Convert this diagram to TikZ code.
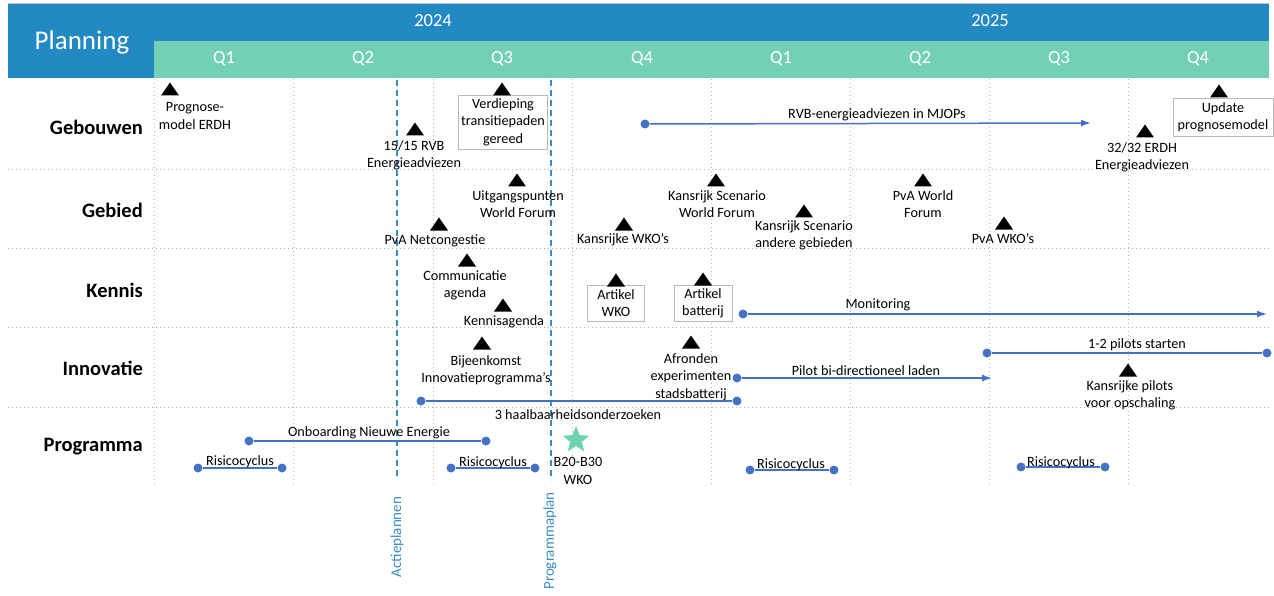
\documentclass[tikz,border=0pt]{standalone}
\usepackage{fontspec}
\setmainfont{Carlito}
\usetikzlibrary{shapes.geometric,arrows.meta}
\definecolor{hdrblue}{HTML}{2289C3}
\definecolor{hdrgreen}{HTML}{73D0B4}
\definecolor{lineblue}{HTML}{4472C4}
\definecolor{dashblue}{HTML}{3A8DC4}
\definecolor{gridgray}{HTML}{A9B7C0}
\definecolor{stargreen}{HTML}{6FD2B2}
\begin{document}
\begin{tikzpicture}[x=1pt,y=-1pt,
  lbl/.style={font=\fontsize{14.2}{17.3}\selectfont, align=center, inner sep=0pt, text=black},
  rowlbl/.style={font=\fontsize{20.5}{25}\selectfont\bfseries, anchor=east, inner sep=0pt},
  hdr/.style={font=\fontsize{18.5}{21}\selectfont, text=white, inner sep=0pt},
  mtri/.pic={\fill[black] (-9,6.5) -- (9,6.5) -- (0,-6.5) -- cycle;},
  mbox/.style={draw=gray!55, line width=0.6pt, fill=white, inner sep=0pt, align=center, font=\fontsize{14.2}{17.3}\selectfont},
  dot/.style={circle, fill=lineblue, minimum size=9pt, inner sep=0pt},
  conn/.style={draw=lineblue, line width=1.5pt},
  arr/.style={conn, -{Latex[length=10pt,width=7pt]}},
  grid/.style={draw=gridgray, line width=1pt, dash pattern=on 1.2pt off 2.8pt},
  vdash/.style={draw=dashblue, line width=1.2pt, dash pattern=on 6pt off 4pt},
  vlbl/.style={font=\fontsize{15}{18}\selectfont, text=dashblue, rotate=90, inner sep=0pt},
  mstar/.style={star, star points=5, star point ratio=2.3, fill=stargreen, minimum size=28pt, inner sep=0pt}
]
\useasboundingbox (0,0) rectangle (1274,596);
% header
\draw[gray!45, line width=0.8pt] (8,3) -- (1270,3);
\fill[hdrblue] (8,4) rectangle (1269,78);
\fill[hdrgreen] (154,41) rectangle (1269,78);
\node[font=\fontsize{27}{31}\selectfont, text=white, inner sep=0pt] (planning) at (82,42) {Planning};
\node[hdr] (y24) at (433,21) {2024};
\node[hdr] (y25) at (990,21) {2025};
\foreach \q/\x in {1/224,2/363,3/502,4/642} \node[hdr] (qa\q) at (\x,59) {Q\q};
\foreach \q/\x in {1/781,2/920,3/1059,4/1198} \node[hdr] (qb\q) at (\x,59) {Q\q};
% grid
\foreach \x in {154,293,433,572,711,850,989,1128} \draw[grid] (\x,79) -- (\x,485);
\foreach \y in {170,248,327,407} \draw[grid] (8,\y) -- (1270,\y);
% row labels
\node[rowlbl] (rg1) at (143,127) {Gebouwen};
\node[rowlbl] (rg2) at (143,210) {Gebied};
\node[rowlbl] (rg3) at (143,290) {Kennis};
\node[rowlbl] (rg4) at (143,368) {Innovatie};
\node[rowlbl] (rg5) at (143,447) {Programma};
% dashed milestones
\coordinate (ap1) at (397,80); \coordinate (ap2) at (397,480);
\coordinate (pp1) at (551,80); \coordinate (pp2) at (551,480);
\draw[vdash] (ap1) -- (ap2);
\draw[vdash] (pp1) -- (pp2);
\node[vlbl] (apl) at (397,537) {Actieplannen};
\node[vlbl] (ppl) at (550,541) {Programmaplan};
% Gebouwen
\pic (t1) at (170,89) {mtri};
\node[lbl] (l1) at (195,116) {Prognose-\\model ERDH};
\pic (t2) at (415,129) {mtri};
\node[lbl] (l2) at (414,155) {15/15 RVB\\Energieadviezen};
\node[mbox, minimum width=89pt, minimum height=54pt] (b3) at (503,122) {Verdieping\\transitiepaden\\gereed};
\pic (t3) at (502,89) {mtri};
\node[dot] (d4a) at (645,124) {};
\coordinate (d4b) at (1091,123);
\draw[arr] (d4a) -- (d4b);
\node[lbl] (l4) at (877,115) {RVB-energieadviezen in MJOPs};
\pic (t5) at (1145,131) {mtri};
\node[lbl] (l5) at (1142,157) {32/32 ERDH\\Energieadviezen};
\node[mbox, minimum width=100pt, minimum height=38pt] (b6) at (1223,117) {Update\\prognosemodel};
\pic (t6) at (1219,91) {mtri};
% Gebied
\pic (t7) at (517,180) {mtri};
\node[lbl] (l7) at (518,204) {Uitgangspunten\\World Forum};
\pic (t8) at (439,224) {mtri};
\node[lbl] (l8) at (435,241) {PvA Netcongestie};
\pic (t9) at (624,224) {mtri};
\node[lbl] (l9) at (623,240) {Kansrijke WKO’s};
\pic (t10) at (716,180) {mtri};
\node[lbl] (l10) at (717,204) {Kansrijk Scenario\\World Forum};
\pic (t11) at (804,211) {mtri};
\node[lbl] (l11) at (804,235) {Kansrijk Scenario\\andere gebieden};
\pic (t12) at (923,180) {mtri};
\node[lbl] (l12) at (923,204) {PvA World\\Forum};
\pic (t13) at (1004,223) {mtri};
\node[lbl] (l13) at (1003,239) {PvA WKO’s};
% Kennis
\pic (t14) at (467,260) {mtri};
\node[lbl] (l14) at (465,285) {Communicatie\\agenda};
\pic (t15) at (503,305) {mtri};
\node[lbl] (l15) at (504,322) {Kennisagenda};
\node[mbox, minimum width=57pt, minimum height=36pt] (b16) at (616,303) {Artikel\\WKO};
\pic (t16) at (616,280) {mtri};
\node[mbox, minimum width=58pt, minimum height=36pt] (b17) at (703,303) {Artikel\\batterij};
\pic (t17) at (703,279) {mtri};
\node[dot] (d18a) at (743,314) {};
\coordinate (d18b) at (1267,314);
\draw[arr] (d18a) -- (d18b);
\node[lbl] (l18) at (878,305) {Monitoring};
% Innovatie
\pic (t19) at (482,343) {mtri};
\node[lbl] (l19) at (486,370) {Bijeenkomst\\Innovatieprogramma’s};
\pic (t20) at (691,342) {mtri};
\node[lbl] (l20) at (691,377) {Afronden\\experimenten\\stadsbatterij};
\node[dot] (d21a) at (421,401) {};
\node[dot] (d21b) at (737,401) {};
\draw[conn] (d21a) -- (d21b);
\node[lbl] (l21) at (578,415) {3 haalbaarheidsonderzoeken};
\node[dot] (d22a) at (737,378) {};
\coordinate (d22b) at (992,378);
\draw[arr] (d22a) -- (d22b);
\node[lbl] (l22) at (866,371) {Pilot bi-directioneel laden};
\node[dot] (d23a) at (987,353) {};
\node[dot] (d23b) at (1267,353) {};
\draw[conn] (d23a) -- (d23b);
\node[lbl] (l23) at (1137,345) {1-2 pilots starten};
\pic (t24) at (1128,370) {mtri};
\node[lbl] (l24) at (1130,395) {Kansrijke pilots\\voor opschaling};
% Programma
\node[dot] (d25a) at (249,441) {};
\node[dot] (d25b) at (486,441) {};
\draw[conn] (d25a) -- (d25b);
\node[lbl] (l25) at (369,433) {Onboarding Nieuwe Energie};
\node[dot] (r1a) at (198,468) {};
\node[dot] (r1b) at (282,468) {};
\draw[conn] (r1a) -- (r1b);
\node[lbl] (lr1) at (240,462) {Risicocyclus};
\node[dot] (r2a) at (451,468) {};
\node[dot] (r2b) at (535,468) {};
\draw[conn] (r2a) -- (r2b);
\node[lbl] (lr2) at (493,463) {Risicocyclus};
\node[dot] (r3a) at (750,470) {};
\node[dot] (r3b) at (834,470) {};
\draw[conn] (r3a) -- (r3b);
\node[lbl] (lr3) at (791,465) {Risicocyclus};
\node[dot] (r4a) at (1021,467) {};
\node[dot] (r4b) at (1105,467) {};
\draw[conn] (r4a) -- (r4b);
\node[lbl] (lr4) at (1061,463) {Risicocyclus};
\node[mstar] (st) at (576,440) {};
\node[lbl] (lst) at (578,471) {B20-B30\\WKO};
\end{tikzpicture}
\end{document}
